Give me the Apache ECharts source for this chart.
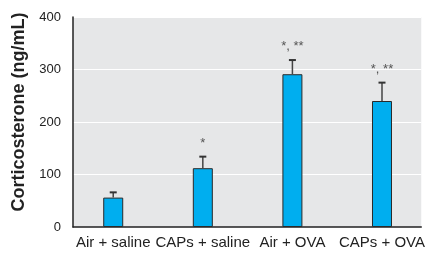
<!DOCTYPE html>
<html><head><meta charset="utf-8">
<script src="https://cdn.jsdelivr.net/npm/echarts@6/dist/echarts.min.js"></script>
<style>html,body{margin:0;padding:0;background:#fff}#c{width:428px;height:253px}</style>
</head><body><div id="c"></div>
<script>
const categories = ['Air + saline', 'CAPs + saline', 'Air + OVA', 'CAPs + OVA'];
const means = [56, 112, 291, 240];
const sem = [10, 22, 27, 35];
const marks = ['', '*', '*, **', '*, **'];
const yTicks = [0, 100, 200, 300, 400];
const yTitle = 'Corticosterone (ng/mL)';

const FONT = '"Liberation Sans Narrow", "Liberation Sans", Arial, sans-serif';
const chart = echarts.init(document.getElementById('c'), null, {renderer: 'canvas'});
const idx = categories.map((_, i) => i);

chart.setOption({
  animation: false,
  grid: {left: 73, right: 0, top: 17, bottom: 26, show: true, backgroundColor: '#E6E7E8', borderWidth: 0},
  xAxis: {
    type: 'value', min: -0.449, max: 3.438,
    axisLine: {show: true, onZero: false, lineStyle: {color: '#222', width: 1.5}},
    axisTick: {show: false},
    splitLine: {show: false},
    axisLabel: {
      customValues: idx, margin: 8, color: '#222', fontFamily: FONT, fontSize: 15,
      formatter: v => categories[Math.round(v)] || ''
    }
  },
  yAxis: {
    type: 'value', min: yTicks[0], max: yTicks[yTicks.length - 1], interval: 100,
    axisLine: {show: true, onZero: false, lineStyle: {color: '#222', width: 1.5}},
    axisTick: {show: false},
    splitLine: {show: true, lineStyle: {color: '#ffffff', width: 1}},
    axisLabel: {margin: 12, color: '#222', fontFamily: FONT, fontSize: 13}
  },
  graphic: [{
    type: 'text', x: 19, y: 112, rotation: Math.PI / 2,
    style: {text: yTitle, font: 'bold 18px ' + FONT, fill: '#222', align: 'center', verticalAlign: 'middle'}
  }],
  series: [
    {
      type: 'bar', barWidth: 20,
      data: means.map((m, i) => [i, m]),
      itemStyle: {color: '#00AEEF', borderColor: '#2a2a2a', borderWidth: 1},
      z: 2
    },
    {
      type: 'custom', z: 3,
      data: means.map((m, i) => [i, m, m + sem[i]]),
      renderItem: (params, api) => {
        const base = api.coord([api.value(0), api.value(1)]);
        const top = api.coord([api.value(0), api.value(2)]);
        const mark = marks[params.dataIndex];
        const ch = [
          {type: 'line', shape: {x1: base[0], y1: base[1], x2: top[0], y2: top[1]}, style: {stroke: '#444', lineWidth: 1.5}},
          {type: 'line', shape: {x1: top[0] - 3.5, y1: top[1], x2: top[0] + 3.5, y2: top[1]}, style: {stroke: '#333', lineWidth: 2}}
        ];
        if (mark) {
          ch.push({type: 'text', x: top[0], y: top[1] - 7,
            style: {text: mark, font: '13px ' + FONT, fill: '#555', align: 'center', verticalAlign: 'bottom'}});
        }
        return {type: 'group', children: ch};
      }
    }
  ]
});
</script></body></html>
